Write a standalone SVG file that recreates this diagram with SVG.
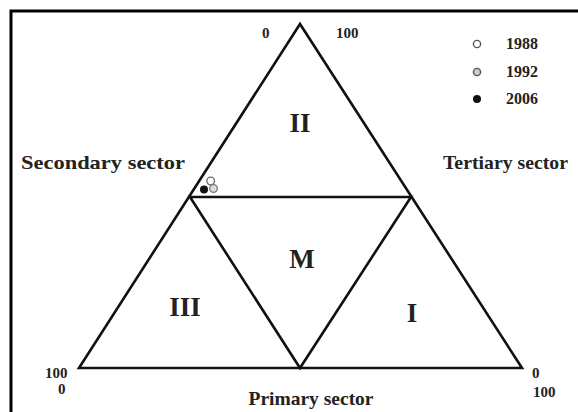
<svg xmlns="http://www.w3.org/2000/svg" width="578" height="412" viewBox="0 0 578 412">
<style>
.t{font-family:"Liberation Serif","Times New Roman",serif;font-weight:bold;fill:#222}
.n{font-size:15px}
.lg{font-size:16px}
.lab{font-size:19.5px}
.big{font-size:27px;text-anchor:middle}
.ln{stroke:#111;stroke-width:2.6;fill:none;stroke-linejoin:miter}
</style>
<rect width="578" height="412" fill="#fff"/>
<path d="M11 412 V11 H578" stroke="#000" stroke-width="3" fill="none"/>
<g id="connectors">
<polygon class="ln" points="300,24 79,368 522,368"/>
<polygon class="ln" points="190,197 411,197 300,368"/>
</g>
<g id="region-II"><text class="t big" x="300" y="132">II</text></g>
<g id="region-M"><text class="t big" x="302" y="268">M</text></g>
<g id="region-III"><text class="t big" x="185" y="316">III</text></g>
<g id="region-I"><text class="t big" x="412" y="322">I</text></g>
<g id="axis-labels">
<text class="t lab" x="21" y="169" textLength="164" lengthAdjust="spacingAndGlyphs">Secondary sector</text>
<text class="t lab" x="443" y="169" textLength="125" lengthAdjust="spacingAndGlyphs">Tertiary sector</text>
<text class="t lab" x="311" y="405" text-anchor="middle">Primary sector</text>
</g>
<g id="ticks">
<text class="t n" x="262" y="38">0</text>
<text class="t n" x="336" y="38">100</text>
<text class="t n" x="45" y="378">100</text>
<text class="t n" x="58" y="394">0</text>
<text class="t n" x="532" y="378">0</text>
<text class="t n" x="533" y="397">100</text>
</g>
<g id="points">
<circle cx="210.7" cy="181" r="3.8" fill="#fff" stroke="#666" stroke-width="1.3"/>
<circle cx="213.5" cy="188.5" r="3.8" fill="#ddd" stroke="#777" stroke-width="1.3"/>
<circle cx="204" cy="189.5" r="4" fill="#111"/>
</g>
<g id="legend">
<circle cx="477" cy="44" r="3.6" fill="#fff" stroke="#555" stroke-width="1.4"/>
<text class="t lg" x="506" y="49">1988</text>
<circle cx="477" cy="72" r="3.6" fill="#ccc" stroke="#555" stroke-width="1.4"/>
<text class="t lg" x="506" y="77">1992</text>
<circle cx="477" cy="99" r="4" fill="#111"/>
<text class="t lg" x="506" y="104">2006</text>
</g>
</svg>
